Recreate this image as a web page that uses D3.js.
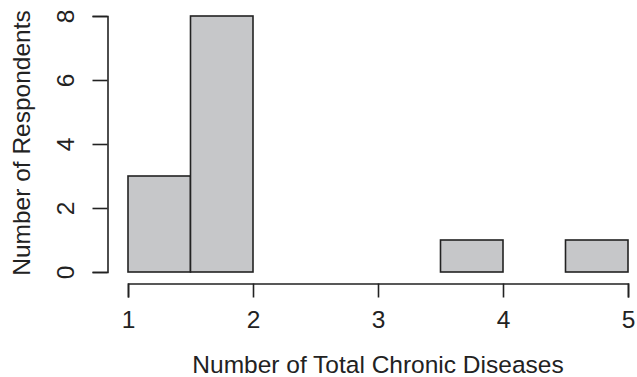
<!DOCTYPE html>
<html><head><meta charset="utf-8">
<script src="https://cdn.jsdelivr.net/npm/d3@7"></script>
<style>body{margin:0;background:#fff}svg{display:block}</style>
</head><body>
<script>
const binStarts = [1, 1.5, 2, 2.5, 3, 3.5, 4, 4.5];
const binWidth = 0.5;
const counts = [3, 8, 0, 0, 0, 1, 0, 1];
const xTicks = [1, 2, 3, 4, 5];
const yTicks = [0, 2, 4, 6, 8];
const xLabel = "Number of Total Chronic Diseases";
const yLabel = "Number of Respondents";

const W = 637, H = 377;
const FONT = "'Liberation Sans', Arial, Helvetica, sans-serif";
const FS = 24.5;
const svg = d3.select("body").append("svg").attr("width", W).attr("height", H)
  .style("font-family", FONT);
const x = d3.scaleLinear().domain([1, 5]).range([128, 628]);
const y = d3.scaleLinear().domain([0, 8]).range([272, 16]);
const ink = "#222";

svg.append("g").selectAll("rect").data(binStarts).join("rect")
  .attr("x", (d) => x(d)).attr("width", (d) => x(d + binWidth) - x(d))
  .attr("y", (d, i) => y(counts[i])).attr("height", (d, i) => y(0) - y(counts[i]))
  .attr("fill", "#c6c7c9").attr("stroke", ink).attr("stroke-width", 1.6);

const xAxis = svg.append("g").attr("transform", "translate(0,283.5)")
  .call(d3.axisBottom(x).tickValues(xTicks).tickSize(14).tickFormat(d3.format("d")));
const yAxis = svg.append("g").attr("transform", "translate(107.5,0)")
  .call(d3.axisLeft(y).tickValues(yTicks).tickSize(15).tickFormat(d3.format("d")));
[xAxis, yAxis].forEach(a => {
  a.select(".domain").attr("stroke", ink).attr("stroke-width", 1.6);
  a.selectAll(".tick line").attr("stroke", ink).attr("stroke-width", 1.6);
  a.selectAll(".tick text").attr("fill", ink).attr("font-size", FS).attr("font-family", FONT);
});
xAxis.selectAll(".tick text").attr("y", 44.5).attr("dy", null);
yAxis.selectAll(".tick text")
  .attr("x", null).attr("dy", null).attr("text-anchor", "middle")
  .attr("transform", "translate(-33.5,0) rotate(-90)");

svg.append("text").attr("x", 378).attr("y", 373).attr("text-anchor", "middle")
  .attr("fill", ink).attr("font-size", FS).text(xLabel);
svg.append("text").attr("transform", "translate(29.5,143) rotate(-90)").attr("text-anchor", "middle")
  .attr("fill", ink).attr("font-size", FS).text(yLabel);
</script>
</body></html>
